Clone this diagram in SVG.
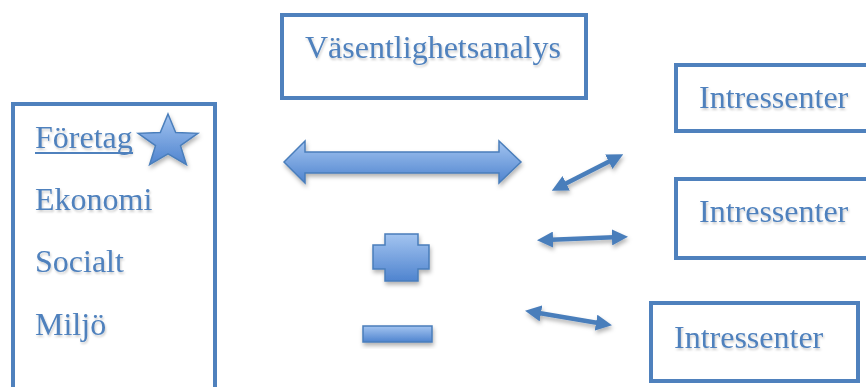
<svg xmlns="http://www.w3.org/2000/svg" width="866" height="387" viewBox="0 0 866 387">
<defs>
<style>
.box{fill:#fff;stroke:#4F81BD;stroke-width:4}
.t{font-family:"Liberation Serif","Times New Roman",serif;font-size:32px;fill:#4F81BD;filter:url(#ts)}
.shape{fill:url(#g);stroke:#4A7EBB;stroke-width:1.5;filter:url(#sh)}
.conn{stroke:#4A7EBB;stroke-width:4.5;fill:none;marker-start:url(#ah);marker-end:url(#ah)}
</style>
<linearGradient id="g" x1="0" y1="0" x2="0" y2="1">
<stop offset="0" stop-color="#A3C4F0"/>
<stop offset="1" stop-color="#4F84CF"/>
</linearGradient>
<filter id="sh" x="-20%" y="-30%" width="140%" height="170%">
<feDropShadow dx="1" dy="3" stdDeviation="2" flood-color="#000" flood-opacity="0.3"/>
</filter>
<filter id="lsh" filterUnits="userSpaceOnUse" x="0" y="0" width="866" height="387">
<feDropShadow dx="1" dy="3" stdDeviation="2" flood-color="#000" flood-opacity="0.3"/>
</filter>
<filter id="ts" x="-5%" y="-20%" width="110%" height="150%">
<feDropShadow dx="1" dy="2" stdDeviation="1" flood-color="#000" flood-opacity="0.2"/>
</filter>
<marker id="ah" viewBox="0 0 10 10" refX="5" refY="5" markerWidth="3.6" markerHeight="3.6" orient="auto-start-reverse" markerUnits="strokeWidth">
<path d="M0,0 L10,5 L0,10 Z" fill="#4A7EBB"/>
</marker>
</defs>

<g id="analys">
<rect class="box" x="282" y="15" width="304" height="83"/>
<text class="t" x="305" y="58">Väsentlighetsanalys</text>
</g>

<g id="foretag">
<rect class="box" x="13" y="104" width="202" height="300"/>
<text class="t" x="35" y="148">Företag</text>
<line x1="35" y1="153" x2="133" y2="153" stroke="#4F81BD" stroke-width="2"/>
<polygon class="shape" points="168,114 175.7,132.5 197.8,133.3 180.5,145.6 186.4,164.7 168,153.8 149.6,164.7 155.5,145.6 138.2,133.3 160.3,132.5"/>
<text class="t" x="35" y="210">Ekonomi</text>
<text class="t" x="35" y="272">Socialt</text>
<text class="t" x="35" y="335">Miljö</text>
</g>

<g id="intressent1">
<rect class="box" x="676" y="65" width="200" height="66"/>
<text class="t" x="699" y="108">Intressenter</text>
</g>
<g id="intressent2">
<rect class="box" x="676" y="179" width="200" height="79"/>
<text class="t" x="699" y="222">Intressenter</text>
</g>
<g id="intressent3">
<rect class="box" x="651" y="303" width="207" height="78"/>
<text class="t" x="674" y="348">Intressenter</text>
</g>

<g id="plus">
<path class="shape" d="M385,234 H418 V245 H429 V269 H418 V281 H385 V269 H373 V245 H385 Z"/>
</g>
<g id="minus">
<rect class="shape" x="363" y="326" width="69" height="16"/>
</g>

<g id="connectors">
<path class="shape" d="M284,162 L305,141 V152 H499 V141 L521,162 L499,183 V173 H305 V183 Z"/>
<g filter="url(#lsh)">
<line class="conn" x1="559" y1="187" x2="616" y2="158"/>
<line class="conn" x1="545" y1="240" x2="620" y2="237"/>
<line class="conn" x1="533" y1="312" x2="604" y2="324"/>
</g>
</g>
</svg>
